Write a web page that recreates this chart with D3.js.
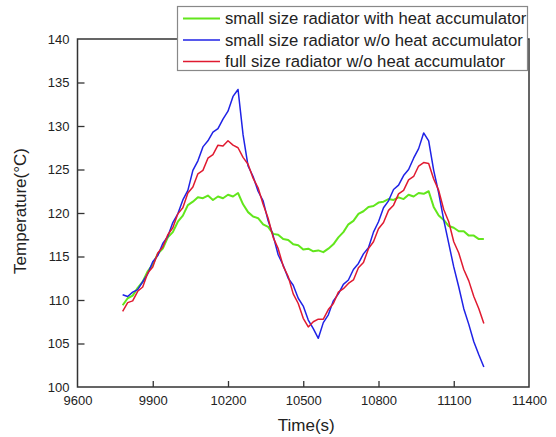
<!DOCTYPE html>
<html>
<head>
<meta charset="utf-8">
<script src="https://cdn.jsdelivr.net/npm/d3@7"></script>
<style>
  html, body { margin: 0; padding: 0; background: #fff; }
  svg { display: block; font-family: "Liberation Sans", Arial, sans-serif; }
</style>
</head>
<body>
<svg id="chart" width="556" height="437"></svg>
<script>
// ---- data ----
const times = [];
for (let t = 9780; t <= 11220; t += 20) times.push(t);

const seriesNames = [
  "small size radiator with heat accumulator",
  "small size radiator w/o heat accumulator",
  "full size radiator w/o heat accumulator"
];

const greenValues = [
  109.4,110.2,110.5,111.4,112.1,113.3,114.1,115.3,115.9,117.2,
  117.8,119.0,119.7,120.9,121.3,121.8,121.7,122.0,121.5,121.9,
  121.7,122.1,121.9,122.3,121.0,120.1,119.6,119.4,118.7,118.4,
  117.6,117.5,117.0,116.9,116.4,116.3,115.8,115.9,115.6,115.7,
  115.5,115.9,116.4,117.2,117.8,118.7,119.1,119.9,120.2,120.7,
  120.8,121.2,121.3,121.6,121.5,121.8,121.6,122.1,121.9,122.3,
  122.2,122.5,120.7,119.7,119.2,118.5,118.3,117.9,117.9,117.4,
  117.4,117.0,117.0
];

const blueValues = [
  110.6,110.4,110.9,111.2,112.1,113.0,114.4,115.1,116.5,117.3,
  118.9,119.9,121.5,122.6,124.9,126.0,127.6,128.3,129.3,129.7,
  130.8,131.7,133.4,134.2,129.0,125.4,124.2,122.5,121.4,119.1,
  117.4,115.2,114.0,112.5,111.7,110.2,109.3,107.7,106.7,105.6,
  107.4,108.3,109.9,110.7,111.8,112.3,113.5,114.2,115.3,116.0,
  117.8,119.0,120.6,121.4,122.7,123.2,124.3,125.0,126.3,127.4,
  129.2,128.3,124.9,122.3,119.2,116.5,113.8,111.5,109.0,107.2,
  105.2,103.7,102.3
];

const redValues = [
  108.7,109.7,109.9,111.0,111.5,113.1,113.8,115.4,116.1,117.5,
  118.3,119.9,120.6,122.3,123.0,124.5,124.9,126.3,126.7,127.8,
  127.7,128.3,127.8,127.5,126.4,125.6,124.0,122.9,121.0,119.4,
  117.2,115.9,113.9,112.7,110.7,109.6,107.9,106.9,107.5,107.8,
  107.8,108.9,109.6,110.9,111.3,111.9,112.3,113.7,114.3,115.9,
  116.7,118.2,118.9,120.3,120.9,122.2,122.6,123.8,124.2,125.4,
  125.8,125.7,123.9,122.6,120.4,119.0,116.7,115.4,113.5,112.2,
  110.4,109.0,107.3
];

const xTicks = [9600, 9900, 10200, 10500, 10800, 11100, 11400];
const yTicks = [100, 105, 110, 115, 120, 125, 130, 135, 140];
const colors = ["#62e61c", "#1f22e6", "#e01a30"];
const xTitle = "Time(s)";
const yTitle = "Temperature(\u00B0C)";

// ---- layout ----
const svg = d3.select("#chart");
const pL = 77.5, pR = 529, pT = 39, pB = 387;

const x = d3.scaleLinear().domain([9600, 11400]).range([pL, pR]);
const y = d3.scaleLinear().domain([100, 140]).range([pB, pT]);

// lines
const allSeries = [greenValues, blueValues, redValues];
const line = d3.line().x((d, i) => x(times[i])).y(d => y(d));
[0, 1, 2].forEach(k => {
  svg.append("path")
    .datum(allSeries[k])
    .attr("fill", "none")
    .attr("stroke", colors[k])
    .attr("stroke-width", k === 0 ? 2 : 1.5)
    .attr("stroke-linejoin", "round")
    .attr("d", line);
});

// axes
const xAxis = svg.append("g")
  .attr("transform", `translate(0,${pB})`)
  .call(d3.axisBottom(x).tickValues(xTicks).tickFormat(d3.format("d"))
    .tickSizeInner(-6).tickSizeOuter(0).tickPadding(9));
const yAxis = svg.append("g")
  .attr("transform", `translate(${pL},0)`)
  .call(d3.axisLeft(y).tickValues(yTicks).tickFormat(d3.format("d"))
    .tickSizeInner(-7).tickSizeOuter(0).tickPadding(8));
[xAxis, yAxis].forEach(a => {
  a.select(".domain").remove();
  a.selectAll(".tick line").attr("stroke", "#333").attr("stroke-width", 1.3);
  a.selectAll(".tick text").attr("fill", "#222").style("font-size", "13px")
    .style("font-family", "'Liberation Sans', Arial, sans-serif");
});
xAxis.selectAll(".tick").filter(d => d === 9600 || d === 11400).select("line").remove();
yAxis.selectAll(".tick").filter(d => d === 100 || d === 140).select("line").remove();

// frame
svg.append("rect")
  .attr("x", pL).attr("y", pT)
  .attr("width", pR - pL).attr("height", pB - pT)
  .attr("fill", "none").attr("stroke", "#333").attr("stroke-width", 1.5);

// titles
svg.append("text")
  .attr("x", (pL + pR) / 2 + 3).attr("y", 431)
  .attr("text-anchor", "middle").attr("fill", "#222")
  .style("font-size", "17px").text(xTitle);
svg.append("text")
  .attr("transform", "translate(26,211) rotate(-90)")
  .attr("text-anchor", "middle").attr("fill", "#222")
  .style("font-size", "17px").text(yTitle);

// legend
const lg = svg.append("g");
lg.append("rect")
  .attr("x", 177.5).attr("y", 6.5).attr("width", 350).attr("height", 64)
  .attr("fill", "#fff").attr("stroke", "#888").attr("stroke-width", 1.2);
const rowsY = [18.5, 40, 61.5];
seriesNames.forEach((name, k) => {
  lg.append("line")
    .attr("x1", 183).attr("x2", 220).attr("y1", rowsY[k]).attr("y2", rowsY[k])
    .attr("stroke", colors[k]).attr("stroke-width", k === 0 ? 2 : 1.5);
  lg.append("text")
    .attr("x", 225).attr("y", rowsY[k]).attr("dy", "0.35em")
    .attr("fill", "#222").style("font-size", "16.7px").text(name);
});
</script>
</body>
</html>
